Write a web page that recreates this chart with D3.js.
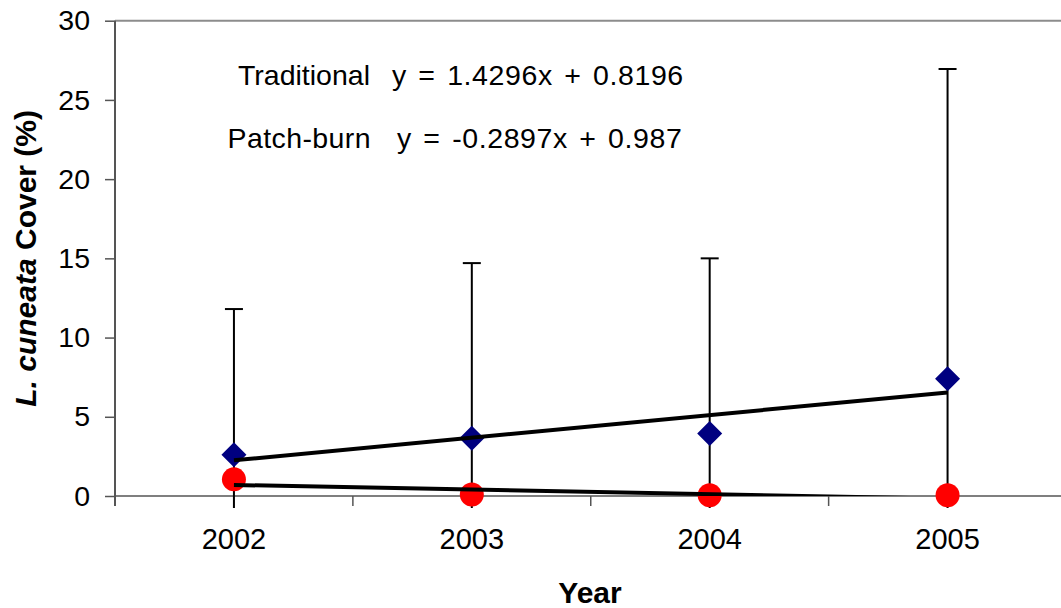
<!DOCTYPE html>
<html>
<head>
<meta charset="utf-8">
<script src="https://cdn.jsdelivr.net/npm/d3@7"></script>
<style>
  html, body { margin: 0; padding: 0; background: #fff; }
  svg { display: block; font-family: "Liberation Sans", Arial, sans-serif; }
</style>
</head>
<body>
<svg id="chart" width="1061" height="608"></svg>
<script>
// Sampling years
const years = ["2002", "2003", "2004", "2005"];

// Mean cover (%) and standard error for the traditional management treatment
const traditionalMean = [2.6, 3.65, 3.95, 7.4];
const traditionalErr = [9.2, 11.05, 11.05, 19.55];

// Mean cover (%) for the patch-burn treatment
const patchBurnMean = [1.05, 0.1, 0.05, 0.05];

// Linear trend fits (x = 1..4 for the sampling years)
const traditionalFit = { slope: 1.4296, intercept: 0.8196 };
const patchBurnFit = { slope: -0.2897, intercept: 0.987 };

const yTicks = [0, 5, 10, 15, 20, 25, 30];

const svg = d3.select("#chart");
const plot = { left: 115, right: 1066.5, top: 20.7, bottom: 496 };

const x = d3.scaleBand().domain(years).range([plot.left, plot.right]);
const y = d3.scaleLinear().domain([0, 30]).range([plot.bottom, plot.top]);
const cx = d => x(d) + x.bandwidth() / 2;

const defs = svg.append("defs");
defs.append("clipPath").attr("id", "plotClip")
  .append("rect")
  .attr("x", plot.left).attr("y", plot.top)
  .attr("width", plot.right - plot.left).attr("height", plot.bottom - plot.top);
defs.append("clipPath").attr("id", "barClip")
  .append("rect")
  .attr("x", plot.left).attr("y", plot.top)
  .attr("width", plot.right - plot.left).attr("height", plot.bottom - plot.top + 12);

// Plot frame: top border
svg.append("line")
  .attr("x1", plot.left).attr("x2", plot.right)
  .attr("y1", plot.top).attr("y2", plot.top)
  .attr("stroke", "#8c8c8c").attr("stroke-width", 2);

// Y axis
const yAxis = svg.append("g")
  .attr("transform", `translate(${plot.left},0)`)
  .call(d3.axisLeft(y).tickValues(yTicks).tickSize(10).tickPadding(15).tickFormat(d3.format("d")));
yAxis.select(".domain").remove();
yAxis.selectAll(".tick line").attr("stroke", "#555").attr("stroke-width", 1.5);
yAxis.selectAll(".tick text")
  .attr("font-size", 28.5).attr("fill", "#000")
  .attr("font-family", "Liberation Sans, Arial, sans-serif");

svg.append("line")
  .attr("x1", plot.left).attr("x2", plot.left)
  .attr("y1", plot.top).attr("y2", plot.bottom + 10)
  .attr("stroke", "#555").attr("stroke-width", 2);

// X axis (ticks between categories)
svg.append("line")
  .attr("x1", plot.left).attr("x2", plot.right)
  .attr("y1", plot.bottom).attr("y2", plot.bottom)
  .attr("stroke", "#555").attr("stroke-width", 1.5);
const bounds = years.map(d => x(d)).concat([plot.right]);
svg.append("g").selectAll("line")
  .data(bounds.slice(1))
  .join("line")
  .attr("x1", d => d).attr("x2", d => d)
  .attr("y1", plot.bottom).attr("y2", plot.bottom + 10)
  .attr("stroke", "#555").attr("stroke-width", 1.5);

svg.append("g").selectAll("text")
  .data(years)
  .join("text")
  .attr("x", d => cx(d))
  .attr("y", 549)
  .attr("text-anchor", "middle")
  .attr("font-size", 29)
  .text(d => d);

// Error bars on the traditional series
const bars = svg.append("g").attr("clip-path", "url(#barClip)");
years.forEach((yr, i) => {
  const hi = traditionalMean[i] + traditionalErr[i];
  const lo = traditionalMean[i] - traditionalErr[i];
  bars.append("line")
    .attr("x1", cx(yr)).attr("x2", cx(yr))
    .attr("y1", y(hi)).attr("y2", y(lo))
    .attr("stroke", "#000").attr("stroke-width", 2);
  bars.append("line")
    .attr("x1", cx(yr) - 9).attr("x2", cx(yr) + 9)
    .attr("y1", y(hi)).attr("y2", y(hi))
    .attr("stroke", "#000").attr("stroke-width", 2);
});

// Markers
const marks = svg.append("g");
marks.selectAll("path.trad")
  .data(years)
  .join("path")
  .attr("class", "trad")
  .attr("d", "M0,-12.5L12.5,0L0,12.5L-12.5,0Z")
  .attr("transform", (d, i) => `translate(${cx(d)},${y(traditionalMean[i])})`)
  .attr("fill", "#000080");

marks.selectAll("circle.patch")
  .data(years)
  .join("circle")
  .attr("class", "patch")
  .attr("cx", d => cx(d))
  .attr("cy", (d, i) => y(patchBurnMean[i]))
  .attr("r", 12)
  .attr("fill", "#ff0000");

// Trend lines
const trend = svg.append("g").attr("clip-path", "url(#plotClip)");
[traditionalFit, patchBurnFit].forEach(fit => {
  const first = 1, last = years.length;
  trend.append("line")
    .attr("x1", cx(years[0])).attr("y1", y(fit.slope * first + fit.intercept))
    .attr("x2", cx(years[last - 1])).attr("y2", y(fit.slope * last + fit.intercept))
    .attr("stroke", "#000").attr("stroke-width", 4);
});

// Equation labels
const fmt = fit => `y = ${fit.slope}x + ${fit.intercept}`;
const eq = svg.append("g").attr("font-size", 28.5).attr("fill", "#000");
eq.append("text").attr("x", 370).attr("y", 85).attr("text-anchor", "end").text("Traditional");
eq.append("text").attr("x", 392).attr("y", 85)
  .attr("word-spacing", 3).attr("letter-spacing", 0.6).text(fmt(traditionalFit));
eq.append("text").attr("x", 371).attr("y", 148).attr("text-anchor", "end").attr("letter-spacing", 0.4).text("Patch-burn");
eq.append("text").attr("x", 397).attr("y", 148)
  .attr("word-spacing", 3).attr("letter-spacing", 0.6).text(fmt(patchBurnFit));

// Axis titles
svg.append("text")
  .attr("x", 590).attr("y", 603)
  .attr("text-anchor", "middle")
  .attr("font-size", 30).attr("font-weight", "bold")
  .text("Year");

const yTitle = svg.append("text")
  .attr("transform", `translate(36,${(plot.top + plot.bottom) / 2}) rotate(-90)`)
  .attr("text-anchor", "middle")
  .attr("font-size", 30).attr("font-weight", "bold");
yTitle.append("tspan").attr("font-style", "italic").text("L. cuneata");
yTitle.append("tspan").text(" Cover (%)");
</script>
</body>
</html>
